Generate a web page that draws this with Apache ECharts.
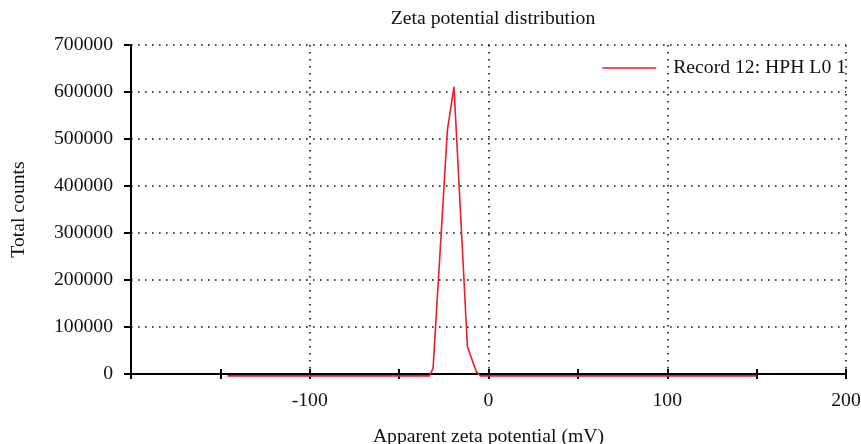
<!DOCTYPE html>
<html>
<head>
<meta charset="utf-8">
<script src="https://cdn.jsdelivr.net/npm/echarts@6/dist/echarts.min.js"></script>
<style>html,body{margin:0;padding:0;background:#fff}#c{width:861px;height:444px}</style>
</head>
<body>
<div id="c"></div>
<script>
var zeta = [-146, -33, -31, -23, -19.3, -11.8, -6.8, -4.5, 150];
var counts = [-4000, -4000, 12000, 519000, 611000, 58000, 5000, -4000, -4000];
var seriesName = 'Record 12: HPH L0 1';
var xTicks = [-100, 0, 100, 200];
var yTicks = [0, 100000, 200000, 300000, 400000, 500000, 600000, 700000];

var pts = zeta.map(function (x, i) { return [x, counts[i]]; });
var font = '"Liberation Serif", "Times New Roman", serif';
var fs = 19.7;
var dotted = { color: '#111', width: 1.6, type: [1.6, 5.4] };

var chart = echarts.init(document.getElementById('c'), null, { renderer: 'canvas' });
chart.setOption({
  animation: false,
  backgroundColor: '#fff',
  title: {
    text: 'Zeta potential distribution', left: 488, top: 4, textAlign: 'center',
    textStyle: { fontFamily: font, fontWeight: 'normal', fontSize: fs, color: '#111' }
  },
  grid: { left: 131, right: 15, top: 45, bottom: 70, outerBoundsMode: 'none', containLabel: false },
  legend: {
    right: 10, top: 53, itemWidth: 54, itemHeight: 14, itemGap: 0,
    data: [{ name: seriesName, icon: 'path://M0,0 L54,0 L54,1.6 L0,1.6 Z' }],
    textStyle: { fontFamily: font, fontSize: fs, color: '#111', padding: [0, 0, 0, 12] }
  },
  xAxis: [{
    type: 'value', min: -200, max: 200, interval: 100,
    name: 'Apparent zeta potential (mV)', nameLocation: 'middle', nameGap: 53,
    nameTextStyle: { fontFamily: font, fontSize: fs, color: '#111' },
    axisLine: { show: true, onZero: false, lineStyle: { color: '#000', width: 2 } },
    axisTick: { show: true, length: 5, lineStyle: { color: '#000', width: 2 } },
    minorTick: { show: true, splitNumber: 2, length: 5, lineStyle: { color: '#000', width: 2 } },
    axisLabel: {
      fontFamily: font, fontSize: fs, color: '#111', margin: 17,
      formatter: function (v) { return xTicks.indexOf(v) >= 0 ? String(v) : ''; }
    },
    splitLine: { show: true, lineStyle: dotted }
  }, {
    type: 'value', min: -200, max: 200, interval: 100, position: 'bottom',
    axisLine: { show: false, onZero: false },
    axisTick: { show: true, inside: true, length: 5, lineStyle: { color: '#000', width: 2 } },
    minorTick: { show: true, splitNumber: 2, length: 5, lineStyle: { color: '#000', width: 2 } },
    axisLabel: { show: false }, splitLine: { show: false }
  }],
  yAxis: {
    type: 'value', min: 0, max: 700000, interval: 100000,
    name: 'Total counts', nameLocation: 'middle', nameGap: 102, nameRotate: 90,
    nameTextStyle: { fontFamily: font, fontSize: fs, color: '#111' },
    axisLine: { show: true, onZero: false, lineStyle: { color: '#000', width: 2 } },
    axisTick: { show: true, length: 7, lineStyle: { color: '#000', width: 2 } },
    axisLabel: {
      fontFamily: font, fontSize: fs, color: '#111', margin: 18,
      formatter: function (v) { return yTicks.indexOf(v) >= 0 ? String(v) : ''; }
    },
    splitLine: { show: true, lineStyle: dotted }
  },
  series: [{
    name: seriesName, type: 'line', xAxisIndex: 0, data: pts, showSymbol: false,
    clip: false, z: 3,
    lineStyle: { color: '#e8202a', width: 1.6 }, itemStyle: { color: '#e8202a' }
  }]
});
</script>
</body>
</html>
